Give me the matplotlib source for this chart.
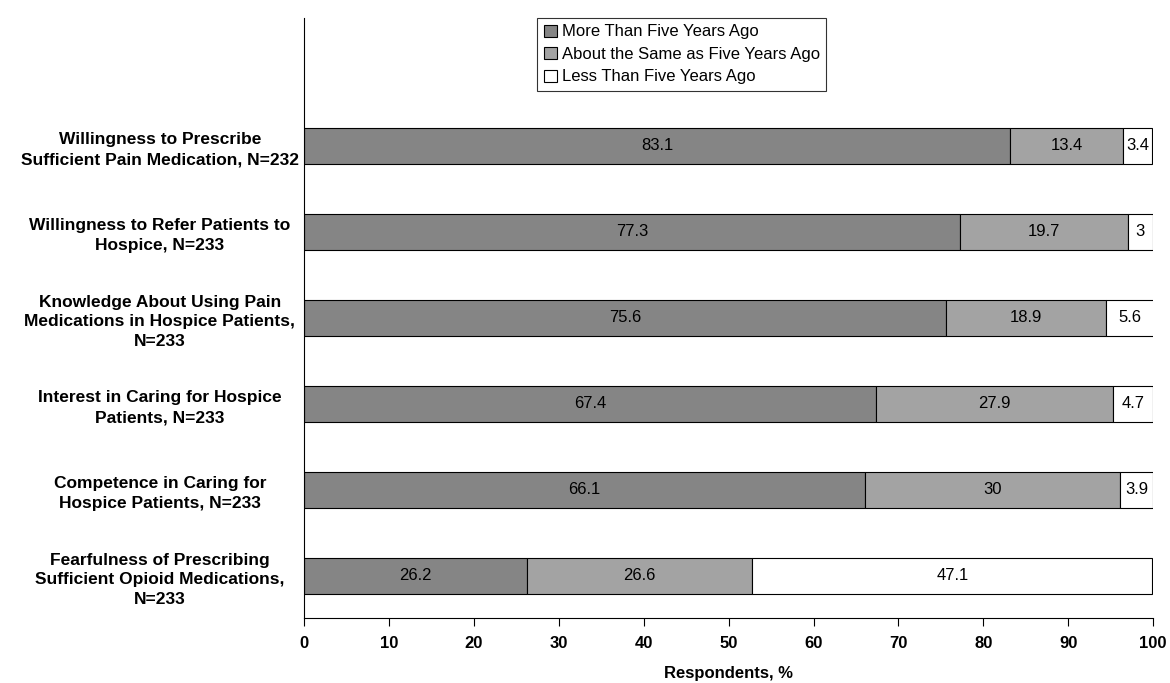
import matplotlib.pyplot as plt
import numpy as np

plt.rcParams['font.family'] = ['Liberation Sans', 'DejaVu Sans']

categories = [
    'Willingness to Prescribe\nSufficient Pain Medication, N=232',
    'Willingness to Refer Patients to\nHospice, N=233',
    'Knowledge About Using Pain\nMedications in Hospice Patients,\nN=233',
    'Interest in Caring for Hospice\nPatients, N=233',
    'Competence in Caring for\nHospice Patients, N=233',
    'Fearfulness of Prescribing\nSufficient Opioid Medications,\nN=233',
]
more = [83.1, 77.3, 75.6, 67.4, 66.1, 26.2]
same = [13.4, 19.7, 18.9, 27.9, 30, 26.6]
less = [3.4, 3, 5.6, 4.7, 3.9, 47.1]
series_names = ['More Than Five Years Ago', 'About the Same as Five Years Ago',
                'Less Than Five Years Ago']
colors = ['#858585', '#a3a3a3', '#ffffff']

fig = plt.figure(figsize=(11.7, 6.83), dpi=100)
ax = fig.add_axes([0.26, 0.095, 0.7255, 0.879])

y = np.arange(len(categories))
left = np.zeros(len(categories))
for vals, name, col in zip([more, same, less], series_names, colors):
    vals = np.array(vals, dtype=float)
    ax.barh(y, vals, left=left, height=0.42, color=col,
            edgecolor='black', linewidth=0.8, label=name)
    for yi, l, v in zip(y, left, vals):
        ax.text(l + v / 2, yi, f'{v:g}', ha='center', va='center', fontsize=12)
    left += vals

ax.set_xlim(0, 100)
ax.set_ylim(5.49, -1.49)
ax.set_xticks(range(0, 101, 10))
ax.set_yticks(y)
ax.set_yticklabels(categories, fontsize=12.5, fontweight='bold', ha='center',
                   linespacing=1.4)
ax.tick_params(axis='y', length=0, pad=104)
ax.tick_params(axis='x', labelsize=12, length=6, direction='out', pad=7)
for lab in ax.get_xticklabels():
    lab.set_fontweight('bold')
ax.spines['top'].set_visible(False)
ax.spines['right'].set_visible(False)
ax.set_xlabel('Respondents, %', fontsize=12, fontweight='bold', labelpad=11)

leg = ax.legend(loc='upper center', bbox_to_anchor=(0.445, 1.0), fontsize=12,
                frameon=True, fancybox=False, edgecolor='black',
                handlelength=0.75, handleheight=0.75, handletextpad=0.3,
                borderpad=0.4, labelspacing=0.45, borderaxespad=0)
leg.get_frame().set_linewidth(0.8)

fig.savefig('out.png', dpi=100)
